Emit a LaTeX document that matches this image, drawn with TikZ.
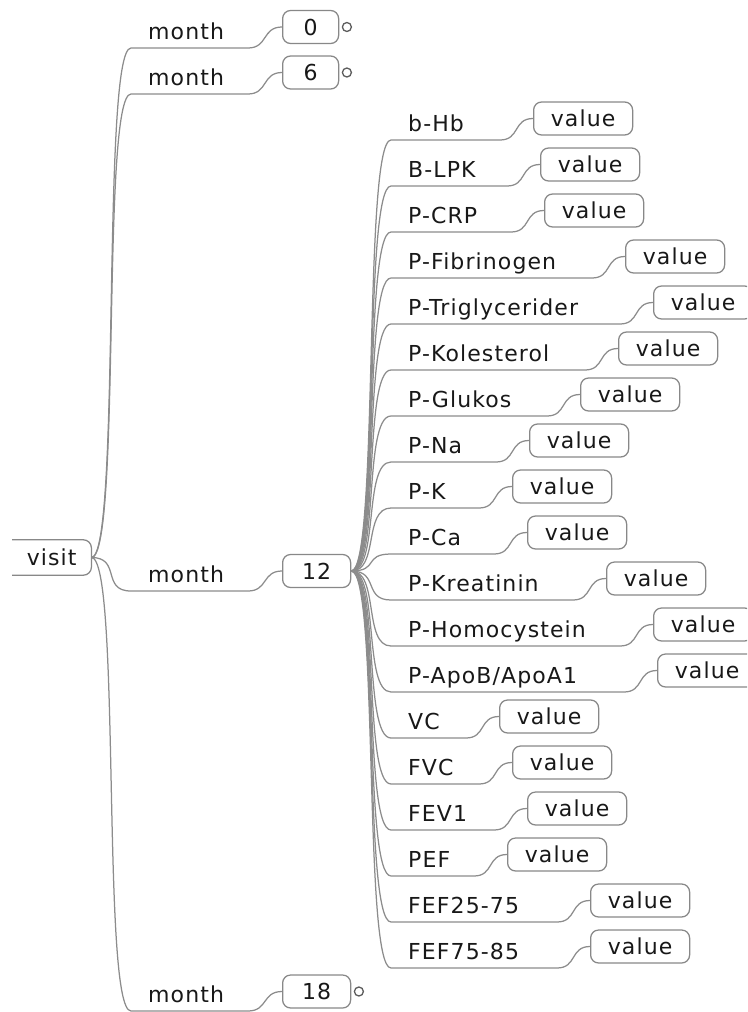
\documentclass[tikz,border=0pt]{standalone}
\usepackage{fontspec}
\setmainfont{DejaVu Sans}[LetterSpace=5]
\usetikzlibrary{calc}
\definecolor{edgegray}{HTML}{8C8C8C}
\definecolor{boxgray}{HTML}{888888}
\definecolor{ink}{HTML}{181818}
\begin{document}
\begin{tikzpicture}[x=1pt,y=-1pt,
  every node/.style={text=ink, font=\fontsize{22}{26}\selectfont},
  link/.style={draw=edgegray, line width=1.25pt},
  branch/.style={to path={.. controls +(#1,0) and +(-#1,0) .. (\tikztotarget)}},
  branch/.default=28,
  bubble/.style={draw=boxgray, line width=1.25pt, rounded corners=8pt, fill=white,
                 inner sep=0pt, minimum height=33pt, anchor=west},
  leaf/.style={anchor=base west, inner sep=0pt},
  fold/.style={circle, draw=ink!70, line width=1.3pt, minimum size=9pt,
               inner sep=0pt, anchor=west},
]
\useasboundingbox (0,0) rectangle (747,1012);
\begin{scope}
\clip (0,0) rectangle (747,1012);

% root node, open on its left side
\node[inner sep=0pt, minimum width=79pt, minimum height=35pt, anchor=west] (visit) at (12,557.5) {visit};
\draw[boxgray, line width=1.25pt, rounded corners=8pt]
  (visit.north west) -- (visit.north east) -- (visit.south east) -- (visit.south west);

% the four "month" branches
\foreach \m/\yu/\yb/\w in {0/48/27/56, 6/94/72.5/56, 12/591/571/68, 18/1011/991.5/68}{
  \node[bubble, minimum width=\w pt] (m\m) at (282,\yb) {\m};
  \node[leaf] (ml\m) at (148,\yu-9) {month};
  \coordinate (mus\m) at (131,\yu);
  \coordinate (mue\m) at (248,\yu);
  \draw[link] (visit.east) to[branch=30] (mus\m) -- (mue\m) to[branch=20] (m\m.west);
}

% folded markers on the collapsed branches
\node[fold] (f0) at ([xshift=2.5pt]m0.east) {};
\node[fold] (f6) at ([xshift=2.5pt]m6.east) {};
\node[fold] (f18) at ([xshift=2.5pt]m18.east) {};

% measurements under month 12
\foreach \lab/\bx [count=\i from 0] in {
  b-Hb/533, B-LPK/540, P-CRP/544, P-Fibrinogen/625, P-Triglycerider/653,
  P-Kolesterol/618, P-Glukos/580, P-Na/529, P-K/512, P-Ca/527,
  P-Kreatinin/606, P-Homocystein/653, {P-ApoB/ApoA1}/657, VC/499, FVC/512,
  FEV1/527, PEF/507, FEF25-75/590, FEF75-85/590}{
  \pgfmathsetmacro\yu{140+46*\i}
  \pgfmathsetmacro\yb{\yu-21.5}
  \pgfmathsetmacro\xe{\bx-33}
  \coordinate (us\i) at (391,\yu);
  \coordinate (ue\i) at (\xe,\yu);
  \node[leaf] (lab\i) at (408,\yu-8.5) {\lab};
  \node[bubble, minimum width=99pt] (val\i) at (\bx,\yb) {value};
  \draw[link] (m12.east) to[branch=28] (us\i) -- (ue\i) to[branch=20] (val\i.west);
}
\end{scope}
\end{tikzpicture}
\end{document}
